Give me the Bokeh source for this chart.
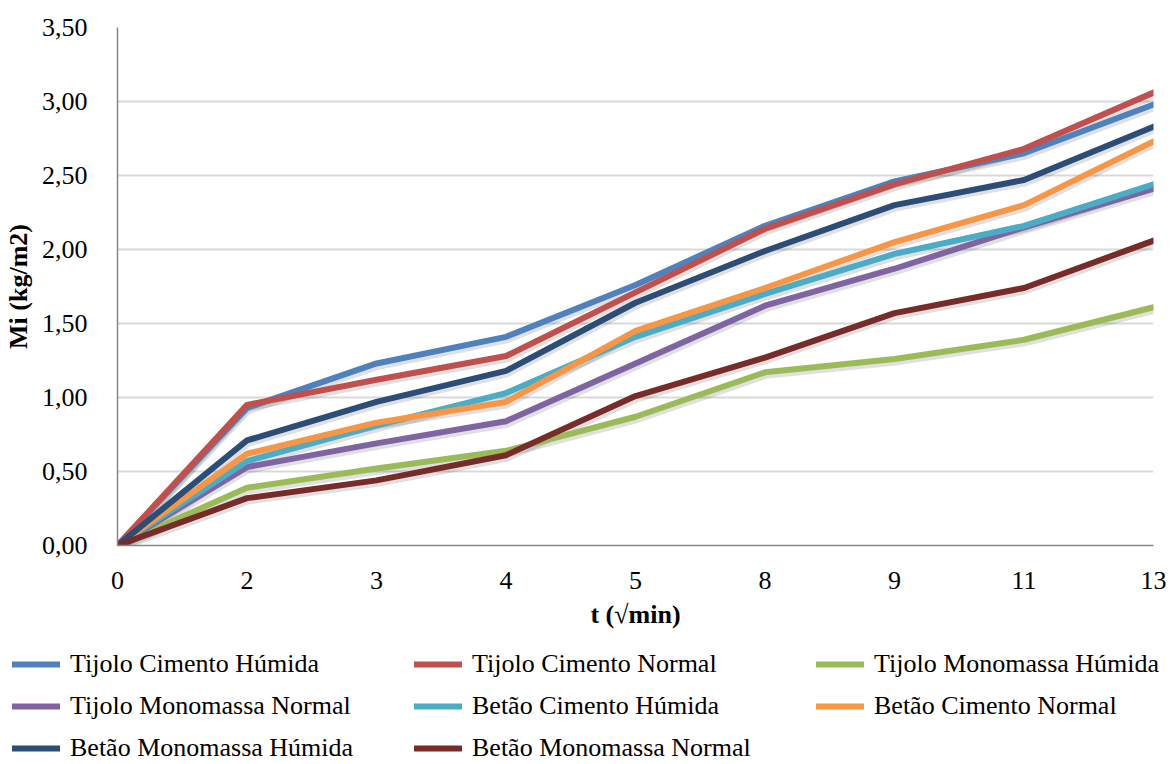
from bokeh.plotting import figure
from bokeh.models import (FixedTicker, CustomJSTickFormatter, Legend, LegendItem,
                          Range1d)
from bokeh.embed import file_html
from bokeh.resources import INLINE

categories = ["0", "2", "3", "4", "5", "8", "9", "11", "13"]

series_names = [
    "Tijolo Cimento Húmida", "Tijolo Cimento Normal", "Tijolo Monomassa Húmida",
    "Tijolo Monomassa Normal", "Betão Cimento Húmida", "Betão Cimento Normal",
    "Betão Monomassa Húmida", "Betão Monomassa Normal",
]

tijolo_cimento_humida = [0, 0.93, 1.23, 1.41, 1.76, 2.16, 2.46, 2.65, 2.98]
tijolo_cimento_normal = [0, 0.95, 1.12, 1.28, 1.71, 2.14, 2.44, 2.68, 3.06]
tijolo_monomassa_humida = [0, 0.39, 0.52, 0.64, 0.87, 1.17, 1.26, 1.39, 1.61]
tijolo_monomassa_normal = [0, 0.53, 0.69, 0.84, 1.23, 1.62, 1.87, 2.15, 2.41]
betao_cimento_humida = [0, 0.57, 0.81, 1.03, 1.41, 1.70, 1.97, 2.16, 2.44]
betao_cimento_normal = [0, 0.62, 0.83, 0.97, 1.45, 1.74, 2.05, 2.30, 2.73]
betao_monomassa_humida = [0, 0.71, 0.97, 1.18, 1.64, 1.99, 2.30, 2.47, 2.83]
betao_monomassa_normal = [0, 0.32, 0.44, 0.61, 1.01, 1.27, 1.57, 1.74, 2.06]

all_series = [tijolo_cimento_humida, tijolo_cimento_normal, tijolo_monomassa_humida,
              tijolo_monomassa_normal, betao_cimento_humida, betao_cimento_normal,
              betao_monomassa_humida, betao_monomassa_normal]

colors = ["#4F81BD", "#C0504D", "#9BBB59", "#8064A2",
          "#4BACC6", "#F79646", "#2C4D75", "#772C2A"]

y_ticks = [0, 0.5, 1.0, 1.5, 2.0, 2.5, 3.0, 3.5]

FONT = "Liberation Serif"
FS = "26px"

W = 1173
H1 = 640          # chart part
H2 = 123          # legend part
BL, BR, BT, BB = 117, 20, 27, 95

p = figure(width=W, height=H1, output_backend="svg", toolbar_location=None,
           x_range=Range1d(0, len(categories) - 1), y_range=Range1d(0, 3.5),
           min_border_left=BL, min_border_right=BR, min_border_top=BT,
           min_border_bottom=BB)
p.outline_line_color = None
p.background_fill_color = "white"

xs = list(range(len(categories)))

frame_w = W - BL - BR
frame_h = H1 - BT - BB
dx = 1.0 * (len(categories) - 1) / frame_w
dy = 3.0 * 3.5 / frame_h

# soft shadows under the lines
for vals in all_series:
    p.line([x + dx for x in xs], [v - dy for v in vals], line_width=7,
           line_color="#000000", line_alpha=0.12, line_join="round")

for vals, col in zip(all_series, colors):
    p.line(xs, vals, line_width=6, line_color=col, line_join="round",
           line_cap="round")

p.xaxis.ticker = FixedTicker(ticks=xs)
p.xaxis.major_label_overrides = {i: c for i, c in enumerate(categories)}
p.yaxis.ticker = FixedTicker(ticks=y_ticks)
p.yaxis.formatter = CustomJSTickFormatter(code="return tick.toFixed(2).replace('.', ',');")

for ax in (p.xaxis[0], p.yaxis[0]):
    ax.axis_line_color = "#868686"
    ax.axis_line_width = 1.5
    ax.major_tick_line_color = None
    ax.minor_tick_line_color = None
    ax.major_label_text_font = FONT
    ax.major_label_text_font_size = FS
    ax.major_label_text_color = "#000000"
    ax.axis_label_text_font = FONT
    ax.axis_label_text_font_size = FS
    ax.axis_label_text_font_style = "bold"
    ax.axis_label_text_color = "#000000"

p.xaxis.axis_label = "t (√min)"
p.yaxis.axis_label = "Mi (kg/m2)"
p.xaxis.major_label_standoff = 20
p.xaxis.axis_label_standoff = 8
p.yaxis.major_label_standoff = 24
p.yaxis.axis_label_standoff = 6

p.xgrid.grid_line_color = None
p.ygrid.grid_line_color = "#D9D9D9"
p.ygrid.grid_line_width = 2
p.ygrid.ticker = FixedTicker(ticks=y_ticks)

# legend panel: a separate root below the chart; its view range is far from
# the data so the proxy lines stay out of view
lg = figure(width=W, height=H2, output_backend="svg", toolbar_location=None,
            x_range=Range1d(100, 101), y_range=Range1d(100, 101),
            x_axis_location=None, y_axis_location=None,
            min_border_left=12, min_border_right=0, min_border_top=3,
            min_border_bottom=0)
lg.grid.visible = False
lg.outline_line_color = None

proxies = []
for vals, col in zip(all_series, colors):
    proxies.append(lg.line(xs, vals, line_width=6, line_color=col,
                           line_cap="round"))

items = [LegendItem(label=n, renderers=[r]) for n, r in zip(series_names, proxies)]
legend = Legend(items=items, orientation="horizontal", ncols=3,
                label_text_font=FONT, label_text_font_size=FS,
                label_text_color="#000000",
                glyph_width=48, glyph_height=42, label_standoff=10,
                label_width=344, label_height=42, spacing=0, padding=0,
                margin=0, border_line_color=None, background_fill_alpha=0,
                location="top_left")
lg.add_layout(legend, "center")

with open("out.html", "w") as f:
    f.write(file_html([p, lg], INLINE))
